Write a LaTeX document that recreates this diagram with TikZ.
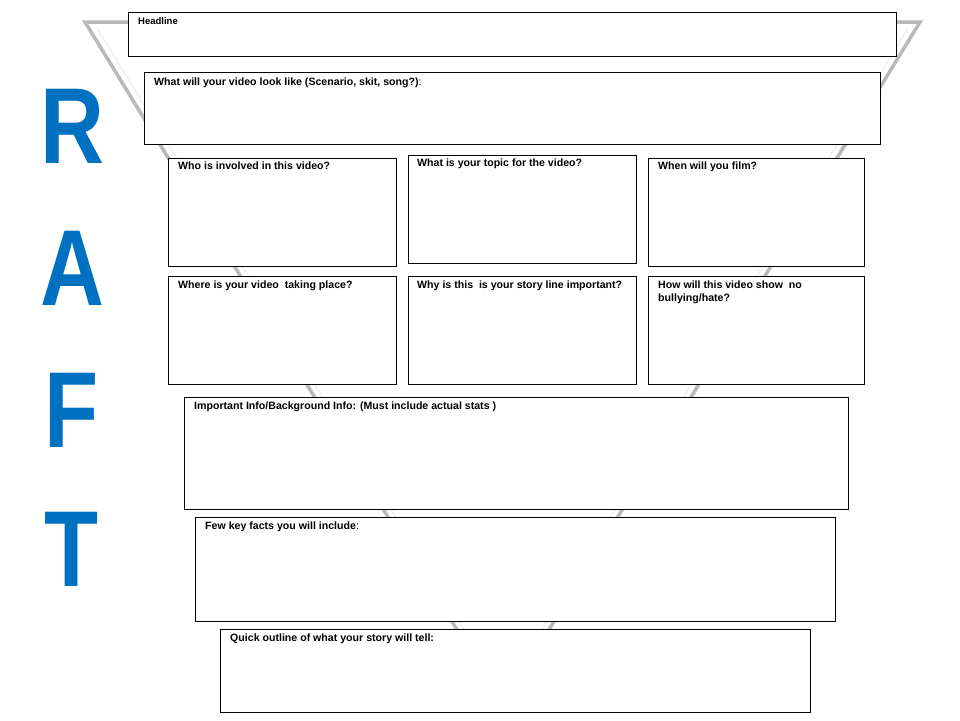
\documentclass[tikz,border=0pt]{standalone}
\usepackage{fontspec}
\setmainfont{Liberation Sans}
\definecolor{raftblue}{RGB}{0,112,192}
\begin{document}
\begin{tikzpicture}[x=1pt,y=-1pt,
  bx/.style={draw=black,line width=0.8pt,fill=white},
  lbl/.style={anchor=north west,font=\bfseries\fontsize{10.6}{12.5}\selectfont,inner sep=0pt,align=left},
  big/.style={font=\bfseries\fontsize{108}{108}\selectfont,text=raftblue,inner sep=0pt,xscale=0.82}]
\useasboundingbox (0,0) rectangle (960,720);
\fill[white] (0,0) rectangle (960,720);
\draw[gray!55,line width=3.5pt,line join=miter] (85,22) -- (920,22) -- (503,705) -- cycle;
\draw[gray!12,line width=1.5pt] (97,28) -- (503,693) -- (908,28);
\foreach \t/\y in {R/126,A/268,F/410,T/549} \node[big] (L\t) at (72,\y) {\t};
\draw[bx] (128,12) rectangle (896,56); \node[lbl,font=\bfseries\fontsize{9.5}{10}\selectfont] (h) at (138,17) {Headline};
\draw[bx] (144,72) rectangle (880,144); \node[lbl] (v) at (154,78) {What will your video look like (Scenario, skit, song?)\textmd{:}};
\draw[bx] (168,158) rectangle (396,266); \node[lbl] (who) at (178,162) {Who is involved in this video?};
\draw[bx] (408,155) rectangle (636,263); \node[lbl] (top) at (417,159) {What is your topic for the video?};
\draw[bx] (648,158) rectangle (864,266); \node[lbl] (when) at (658,162) {When will you film?};
\draw[bx] (168,276) rectangle (396,384); \node[lbl] (where) at (178,281) {Where is your video\ \ taking place?};
\draw[bx] (408,276) rectangle (636,384); \node[lbl] (why) at (417,281) {Why is this\ \ is your story line important?};
\draw[bx] (648,276) rectangle (864,384); \node[lbl] (how) at (658,281) {How will this video show\ \ no\\bullying/hate?};
\draw[bx] (184,397) rectangle (848,509); \node[lbl] (imp) at (194,402) {Important Info/Background Info: (Must include actual stats )};
\draw[bx] (195,517) rectangle (835,621); \node[lbl] (few) at (205,522) {Few key facts you will include\textmd{:}};
\draw[bx] (220,629) rectangle (810,712); \node[lbl] (q) at (230,634) {Quick outline of what your story will tell:};
\end{tikzpicture}
\end{document}
